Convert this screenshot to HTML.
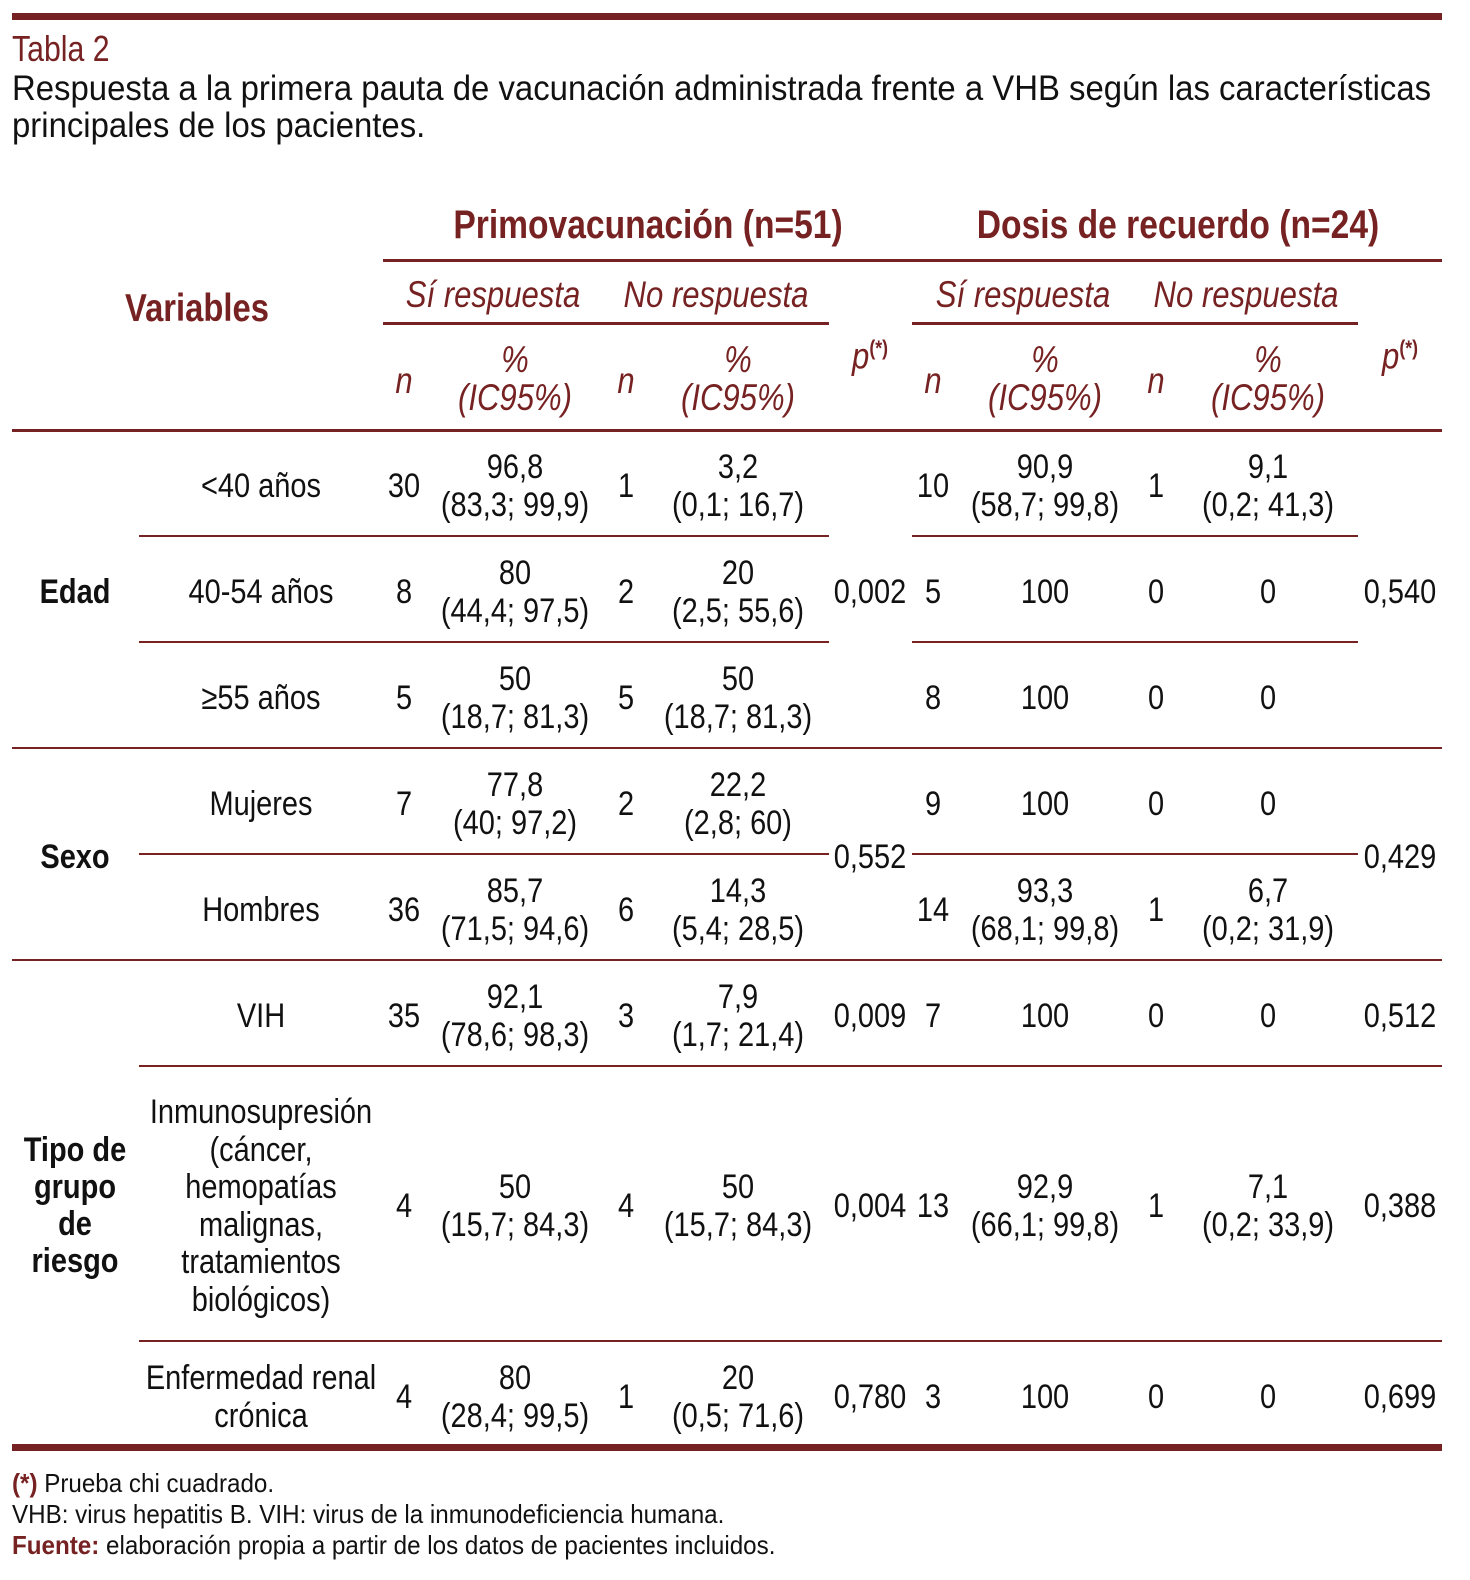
<!DOCTYPE html>
<html><head><meta charset="utf-8"><style>
body{margin:0;width:1470px;height:1580px;background:#fff;position:relative;overflow:hidden;font-family:"Liberation Sans Narrow","Liberation Sans",sans-serif;color:#111}
.t{position:absolute;width:600px;margin-left:-300px;text-align:center;line-height:38px;font-size:34.5px;white-space:nowrap;transform:scaleX(0.84);transform-origin:50% 50%}
.h{color:#772222;font-style:italic;font-size:37px}
.b{font-weight:bold}
.l{position:absolute;background:#772222;height:3px}
.r{color:#772222}
.lt{transform:scaleX(0.84);transform-origin:0 0}
sup{font-weight:bold;font-style:normal}
</style></head><body>
<div class="l" style="left:12px;top:13px;width:1430px;height:7px"></div>
<div class="lt" style="position:absolute;left:12px;top:30px;font-size:36px;color:#772222;line-height:38px">Tabla 2</div>
<div class="lt" style="position:absolute;left:12px;top:70px;font-size:35px;line-height:37px;white-space:nowrap;transform:scaleX(0.94)">Respuesta a la primera pauta de vacunación administrada frente a VHB según las características<br>principales de los pacientes.</div>

<div class="t b r" style="left:648px;top:206px;font-size:40px">Primovacunación (n=51)</div>
<div class="t b r" style="left:1178px;top:206px;font-size:40px">Dosis de recuerdo (n=24)</div>
<div class="l" style="left:383px;top:259px;width:1059px"></div>
<div class="t b r" style="left:197px;top:290px;font-size:39px">Variables</div>
<div class="t h" style="left:493px;top:276px">Sí respuesta</div>
<div class="t h" style="left:716px;top:276px">No respuesta</div>
<div class="t h" style="left:1023px;top:276px">Sí respuesta</div>
<div class="t h" style="left:1246px;top:276px">No respuesta</div>
<div class="l" style="left:383px;top:322px;width:446px"></div>
<div class="l" style="left:912px;top:322px;width:446px"></div>
<div class="t h" style="left:404px;top:362px">n</div>
<div class="t h" style="left:515px;top:341px">%<br>(IC95%)</div>
<div class="t h" style="left:626px;top:362px">n</div>
<div class="t h" style="left:738px;top:341px">%<br>(IC95%)</div>
<div class="t h" style="left:870px;top:330px">p<sup style="font-size:21px">(*)</sup></div>
<div class="t h" style="left:933px;top:362px">n</div>
<div class="t h" style="left:1045px;top:341px">%<br>(IC95%)</div>
<div class="t h" style="left:1156px;top:362px">n</div>
<div class="t h" style="left:1268px;top:341px">%<br>(IC95%)</div>
<div class="t h" style="left:1400px;top:330px">p<sup style="font-size:21px">(*)</sup></div>
<div class="l" style="left:12px;top:429px;width:1430px"></div>

<div class="l" style="left:139px;top:535px;width:690px;height:2px"></div>
<div class="l" style="left:912px;top:535px;width:446px;height:2px"></div>
<div class="l" style="left:139px;top:641px;width:690px;height:2px"></div>
<div class="l" style="left:912px;top:641px;width:446px;height:2px"></div>
<div class="l" style="left:12px;top:747px;width:1430px;height:2px"></div>
<div class="l" style="left:139px;top:853px;width:690px;height:2px"></div>
<div class="l" style="left:912px;top:853px;width:446px;height:2px"></div>
<div class="l" style="left:12px;top:959px;width:1430px;height:2px"></div>
<div class="l" style="left:139px;top:1065px;width:1303px;height:2px"></div>
<div class="l" style="left:139px;top:1340px;width:1303px;height:2px"></div>
<div class="l" style="left:12px;top:1444px;width:1430px;height:7px"></div>

<div class="t b" style="left:75px;top:573px">Edad</div>
<div class="t b" style="left:75px;top:838px">Sexo</div>
<div class="t b" style="left:75px;top:1132px;line-height:37px">Tipo de<br>grupo<br>de<br>riesgo</div>

<div class="t" style="left:261px;top:467px">&lt;40 años</div>
<div class="t" style="left:404px;top:467px">30</div>
<div class="t" style="left:515px;top:448px">96,8<br>(83,3; 99,9)</div>
<div class="t" style="left:626px;top:467px">1</div>
<div class="t" style="left:738px;top:448px">3,2<br>(0,1; 16,7)</div>
<div class="t" style="left:933px;top:467px">10</div>
<div class="t" style="left:1045px;top:448px">90,9<br>(58,7; 99,8)</div>
<div class="t" style="left:1156px;top:467px">1</div>
<div class="t" style="left:1268px;top:448px">9,1<br>(0,2; 41,3)</div>

<div class="t" style="left:261px;top:573px">40-54 años</div>
<div class="t" style="left:404px;top:573px">8</div>
<div class="t" style="left:515px;top:554px">80<br>(44,4; 97,5)</div>
<div class="t" style="left:626px;top:573px">2</div>
<div class="t" style="left:738px;top:554px">20<br>(2,5; 55,6)</div>
<div class="t" style="left:870px;top:573px">0,002</div>
<div class="t" style="left:933px;top:573px">5</div>
<div class="t" style="left:1045px;top:573px">100</div>
<div class="t" style="left:1156px;top:573px">0</div>
<div class="t" style="left:1268px;top:573px">0</div>
<div class="t" style="left:1400px;top:573px">0,540</div>

<div class="t" style="left:261px;top:679px">≥55 años</div>
<div class="t" style="left:404px;top:679px">5</div>
<div class="t" style="left:515px;top:660px">50<br>(18,7; 81,3)</div>
<div class="t" style="left:626px;top:679px">5</div>
<div class="t" style="left:738px;top:660px">50<br>(18,7; 81,3)</div>
<div class="t" style="left:933px;top:679px">8</div>
<div class="t" style="left:1045px;top:679px">100</div>
<div class="t" style="left:1156px;top:679px">0</div>
<div class="t" style="left:1268px;top:679px">0</div>

<div class="t" style="left:261px;top:785px">Mujeres</div>
<div class="t" style="left:404px;top:785px">7</div>
<div class="t" style="left:515px;top:766px">77,8<br>(40; 97,2)</div>
<div class="t" style="left:626px;top:785px">2</div>
<div class="t" style="left:738px;top:766px">22,2<br>(2,8; 60)</div>
<div class="t" style="left:933px;top:785px">9</div>
<div class="t" style="left:1045px;top:785px">100</div>
<div class="t" style="left:1156px;top:785px">0</div>
<div class="t" style="left:1268px;top:785px">0</div>
<div class="t" style="left:870px;top:838px;background:#fff;width:90px;margin-left:-45px">0,552</div>
<div class="t" style="left:1400px;top:838px;background:#fff;width:90px;margin-left:-45px">0,429</div>

<div class="t" style="left:261px;top:891px">Hombres</div>
<div class="t" style="left:404px;top:891px">36</div>
<div class="t" style="left:515px;top:872px">85,7<br>(71,5; 94,6)</div>
<div class="t" style="left:626px;top:891px">6</div>
<div class="t" style="left:738px;top:872px">14,3<br>(5,4; 28,5)</div>
<div class="t" style="left:933px;top:891px">14</div>
<div class="t" style="left:1045px;top:872px">93,3<br>(68,1; 99,8)</div>
<div class="t" style="left:1156px;top:891px">1</div>
<div class="t" style="left:1268px;top:872px">6,7<br>(0,2; 31,9)</div>

<div class="t" style="left:261px;top:997px">VIH</div>
<div class="t" style="left:404px;top:997px">35</div>
<div class="t" style="left:515px;top:978px">92,1<br>(78,6; 98,3)</div>
<div class="t" style="left:626px;top:997px">3</div>
<div class="t" style="left:738px;top:978px">7,9<br>(1,7; 21,4)</div>
<div class="t" style="left:870px;top:997px">0,009</div>
<div class="t" style="left:933px;top:997px">7</div>
<div class="t" style="left:1045px;top:997px">100</div>
<div class="t" style="left:1156px;top:997px">0</div>
<div class="t" style="left:1268px;top:997px">0</div>
<div class="t" style="left:1400px;top:997px">0,512</div>

<div class="t" style="left:261px;top:1094px;line-height:37.5px">Inmunosupresión<br>(cáncer,<br>hemopatías<br>malignas,<br>tratamientos<br>biológicos)</div>
<div class="t" style="left:404px;top:1187px">4</div>
<div class="t" style="left:515px;top:1168px">50<br>(15,7; 84,3)</div>
<div class="t" style="left:626px;top:1187px">4</div>
<div class="t" style="left:738px;top:1168px">50<br>(15,7; 84,3)</div>
<div class="t" style="left:870px;top:1187px">0,004</div>
<div class="t" style="left:933px;top:1187px">13</div>
<div class="t" style="left:1045px;top:1168px">92,9<br>(66,1; 99,8)</div>
<div class="t" style="left:1156px;top:1187px">1</div>
<div class="t" style="left:1268px;top:1168px">7,1<br>(0,2; 33,9)</div>
<div class="t" style="left:1400px;top:1187px">0,388</div>

<div class="t" style="left:261px;top:1359px">Enfermedad renal<br>crónica</div>
<div class="t" style="left:404px;top:1378px">4</div>
<div class="t" style="left:515px;top:1359px">80<br>(28,4; 99,5)</div>
<div class="t" style="left:626px;top:1378px">1</div>
<div class="t" style="left:738px;top:1359px">20<br>(0,5; 71,6)</div>
<div class="t" style="left:870px;top:1378px">0,780</div>
<div class="t" style="left:933px;top:1378px">3</div>
<div class="t" style="left:1045px;top:1378px">100</div>
<div class="t" style="left:1156px;top:1378px">0</div>
<div class="t" style="left:1268px;top:1378px">0</div>
<div class="t" style="left:1400px;top:1378px">0,699</div>

<div class="lt" style="position:absolute;left:12px;top:1468px;font-size:26px;line-height:31px;white-space:nowrap;transform:scaleX(0.93)"><span class="b r">(*)</span> Prueba chi cuadrado.<br>VHB: virus hepatitis B. VIH: virus de la inmunodeficiencia humana.<br><span class="b r">Fuente:</span> elaboración propia a partir de los datos de pacientes incluidos.</div>
</body></html>
